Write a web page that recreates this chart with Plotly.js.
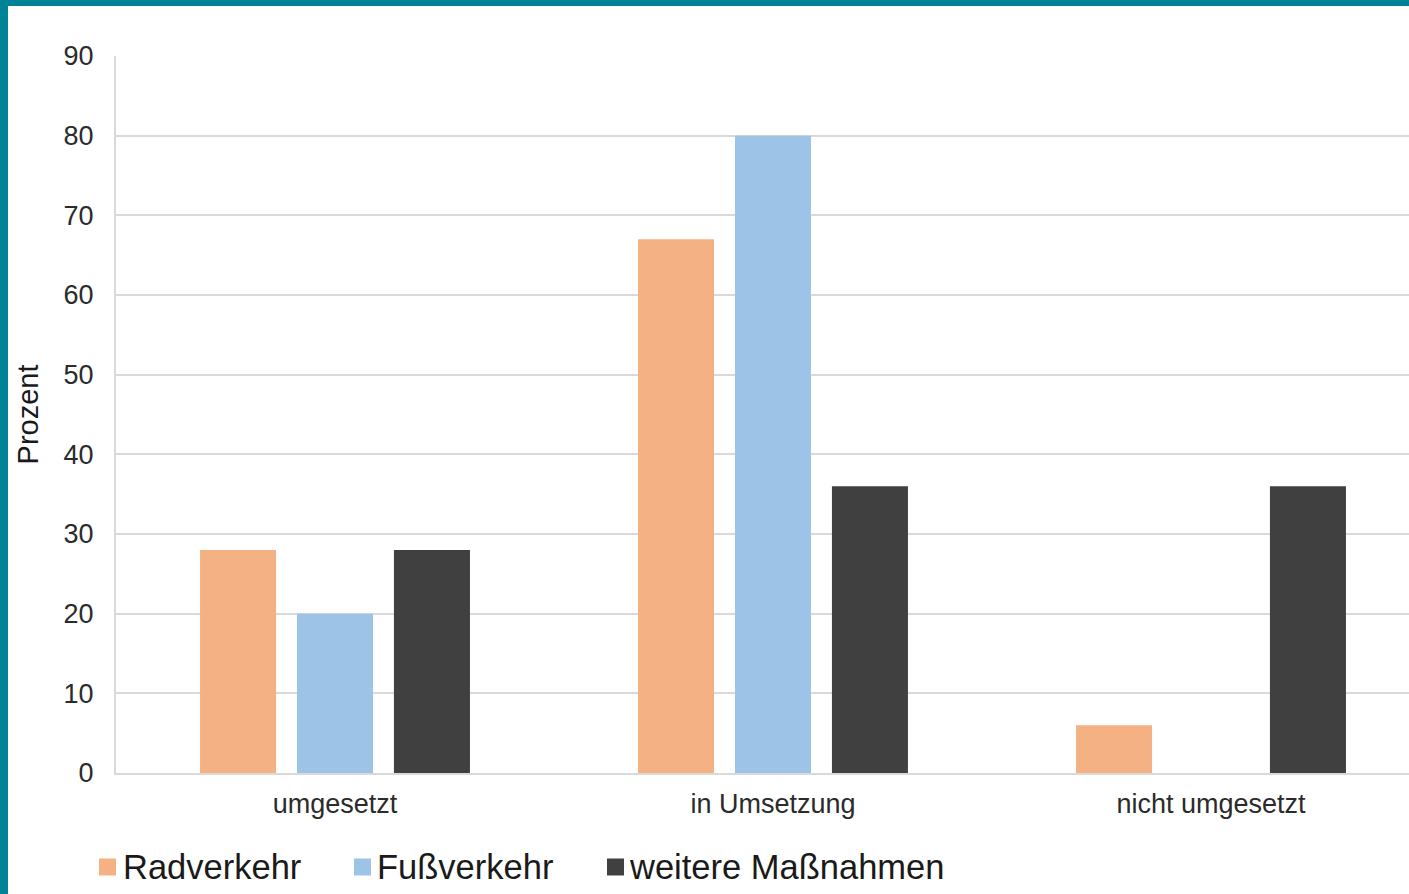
<!DOCTYPE html>
<html>
<head>
<meta charset="utf-8">
<script src="https://cdn.plot.ly/plotly-3.0.1.min.js"></script>
<style>
  html, body { margin: 0; padding: 0; width: 1409px; height: 894px; overflow: hidden; background: #008396; }
  #chart { position: absolute; left: 8px; top: 6px; width: 1422px; height: 888px; background: #ffffff; }
</style>
</head>
<body>
<div id="chart"></div>
<script>
// ---- data ----
const categories = ["umgesetzt", "in Umsetzung", "nicht umgesetzt"];
const seriesNames = ["Radverkehr", "Fußverkehr", "weitere Maßnahmen"];
const radverkehr = [28, 67, 6];
const fussverkehr = [20, 80, 0];
const weitere = [28, 36, 36];
const yTicks = [0, 10, 20, 30, 40, 50, 60, 70, 80, 90];
const yTitle = "Prozent";

// ---- styling ----
const colors = ["#f4b183", "#9dc3e6", "#404040"];
const seriesValues = [radverkehr, fussverkehr, weitere];
const FONT = "Liberation Sans, Arial, sans-serif";

const traces = seriesValues.map((vals, i) => ({
  type: "bar",
  name: seriesNames[i],
  x: categories,
  y: vals,
  marker: { color: colors[i] },
  hoverinfo: "skip",
  showlegend: false
}));

// custom legend (page pixel positions converted to paper coords)
const plotL = 116, plotR = 1430, plotT = 56, plotB = 773;
const px = x => (x - plotL) / (plotR - plotL);
const py = y => (plotB - y) / (plotB - plotT);
const legendMarkerX = [99, 354, 607];
const legendTextX = [121, 375, 627];
const legendY = 867;
const shapes = [];
const annotations = [];
seriesNames.forEach((n, i) => {
  shapes.push({
    type: "rect", xref: "paper", yref: "paper",
    xsizemode: "pixel", ysizemode: "pixel",
    xanchor: px(legendMarkerX[i]), yanchor: py(legendY),
    x0: 0, x1: 17, y0: -8.5, y1: 8.5,
    fillcolor: colors[i], line: { width: 0 }
  });
  annotations.push({
    xref: "paper", yref: "paper",
    x: px(legendTextX[i]), y: py(legendY),
    xanchor: "left", yanchor: "middle",
    text: n, showarrow: false,
    font: { family: FONT, size: 34.5, color: "#1a1a1a" }
  });
});

const layout = {
  width: 1422, height: 888,
  margin: { l: 108, r: 0, t: 50, b: 121 },
  paper_bgcolor: "#ffffff",
  plot_bgcolor: "#ffffff",
  barmode: "group",
  bargap: 0.336,
  bargroupgap: 0.216,
  showlegend: false,
  xaxis: {
    type: "category",
    range: [-0.5, 2.5],
    showgrid: false,
    showline: true, linecolor: "#d9d9d9", linewidth: 2,
    ticks: "",
    ticklabelstandoff: 6,
    tickfont: { family: FONT, size: 27, color: "#2b2b2b" },
    zeroline: false,
    fixedrange: true
  },
  yaxis: {
    range: [0, 90],
    tickvals: yTicks,
    ticktext: yTicks.map(String),
    showgrid: true, gridcolor: "#d9d9d9", gridwidth: 2,
    showline: true, linecolor: "#d9d9d9", linewidth: 2,
    zeroline: false,
    ticks: "",
    ticklabelstandoff: 15,
    tickfont: { family: FONT, size: 27, color: "#2b2b2b" },
    title: { text: yTitle, font: { family: FONT, size: 29, color: "#1a1a1a" }, standoff: 16 },
    automargin: false,
    fixedrange: true
  },
  shapes: shapes,
  annotations: annotations
};

Plotly.newPlot("chart", traces, layout, { displayModeBar: false, staticPlot: true });
</script>
</body>
</html>
